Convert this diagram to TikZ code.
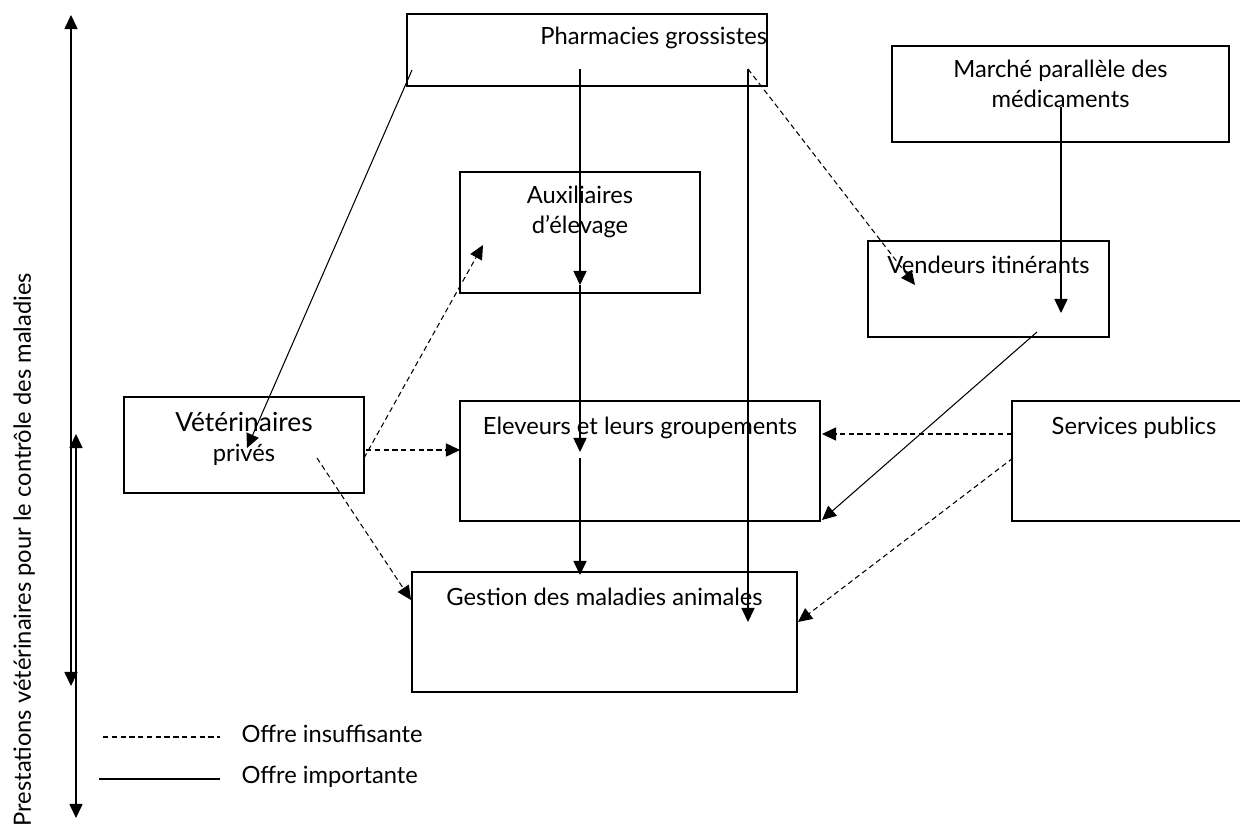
\documentclass[tikz,border=0pt]{standalone}
\usepackage{fontspec}
\setmainfont{Lato}
\usetikzlibrary{arrows.meta,fit}

\begin{document}
\begin{tikzpicture}[
  x=0.02cm,
  y=-0.02cm,
  >={Triangle[length=8pt,width=7.5pt]},
  line width=0.6pt,
  font=\fontsize{13.5}{17}\selectfont,
  box/.style={
  	draw,
  	rectangle,
  	inner sep=0pt
  },
  txt/.style={
  	anchor=base,
  	inner sep=0pt,
  	align=center
  },
  strong/.style={
  	->
  },
  weak/.style={
  	->,
  	dash pattern=on 3pt off 2pt
  }
  ]
  \useasboundingbox (0,0) rectangle (1240,828);

  \node[box,fit={(407,14) (767,86)},label={[txt,anchor=base east,yshift=-17.5pt]north east:Pharmacies grossistes}] (pharma) {};
  \node[box,fit={(892,46) (1229,142)},label={[txt,yshift=-35.5pt]north:Marché parallèle des\\médicaments}] (marche) {};
  \node[box,fit={(460,172) (700,293)},label={[txt,yshift=-35.5pt]north:Auxiliaires\\d’élevage}] (aux) {};
  \node[box,fit={(868,241) (1109,337)},label={[txt,yshift=-19pt]north:Vendeurs itinérants}] (vendeurs) {};
  \node[box,fit={(124,397) (364,493)},label={[txt,yshift=-37pt]north:{\fontsize{15}{17}\selectfont Vétérinaires}\\privés}] (vet) {};
  \node[box,fit={(460,401) (820,521)},label={[txt,yshift=-19.5pt]north:Eleveurs et leurs groupements}] (eleveurs) {};
  \node[box,fit={(1012,401) (1256,521)},label={[txt,yshift=-19.5pt]north:Services publics}] (services) {};
  \node[box,fit={(412,572) (797,692)},label={[txt,yshift=-19.5pt]north:Gestion des maladies animales}] (gestion) {};

  \node[rotate=90,anchor=base west,inner sep=0pt] (axislbl) at (31,827) {Prestations vétérinaires pour le contrôle des maladies};
  \node[anchor=base west,inner sep=0pt] (lgweak) at (241,742) {Offre insuffisante};
  \node[anchor=base west,inner sep=0pt] (lgstrong) at (241,783) {Offre importante};

  \foreach \x/\y/\n in {412/70/p1,580/69/p2,748/69/p3,247/448/v1,580/285/a1,580/452/e1,
    580/458/e2,580/575/g1,748/622/g2,1061/107/m1,1061/313/vd1,1037/332/vd2,822/520/e3,
    915/285/vd3,1012/434/s1,822/434/e4,1013/458/s2,798/622/g3,366/450/v2,460/450/e5,
    364/458/v3,483/245/a2,317/458/v4,411/600/g4,71/15/ax1,71/686/ax2,76/434/ax3,76/818/ax4,
    103/737/l1,220/737/l2,99/779/l3,220/779/l4}
  \coordinate (\n) at (\x,\y);

  \draw[strong] (p1) -- (v1);
  \draw[strong] (p2) -- (a1);
  \draw[strong] (a1) -- (e1);
  \draw[strong] (e2) -- (g1);
  \draw[strong] (p3) -- (g2);
  \draw[strong] (m1) -- (vd1);
  \draw[strong] (vd2) -- (e3);
  \draw[weak] (p3) -- (vd3);
  \draw[weak] (s1) -- (e4);
  \draw[weak] (s2) -- (g3);
  \draw[weak] (v2) -- (e5);
  \draw[weak] (v3) -- (a2);
  \draw[weak] (v4) -- (g4);
  \draw[<->] (ax1) -- (ax2);
  \draw[<->] (ax3) -- (ax4);

  \draw[dash pattern=on 3pt off 2pt] (l1) -- (l2);
  \draw (l3) -- (l4);
\end{tikzpicture}
\end{document}
